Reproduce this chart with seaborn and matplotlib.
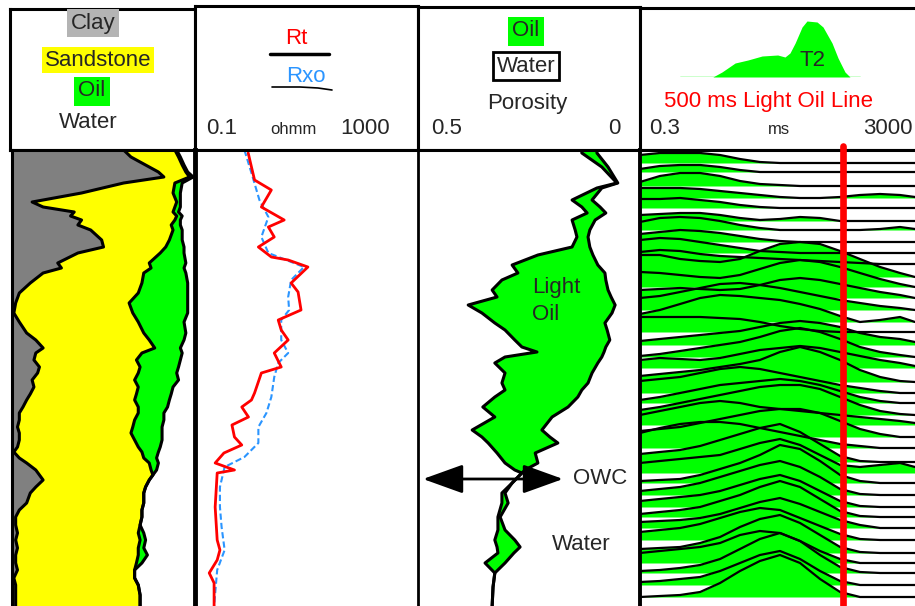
import numpy as np
import seaborn as sns
import matplotlib.pyplot as plt

# ---------------- track 1 : lithology (cumulative volume fraction) ----------------
lith_depth = [0, 7, 15, 22, 27, 33, 43, 52, 57, 62, 66, 70, 75, 80, 90, 97, 103, 113, 118, 123,
              133, 143, 153, 163, 172, 183, 190, 198, 203, 210, 217, 223, 230, 237, 244, 250, 257,
              263, 270, 277, 283, 290, 297, 302, 308, 313, 320, 325, 330, 337, 343, 353, 360, 367,
              375, 383, 390, 398, 405, 413, 420, 428, 435, 445, 456]
clay_vol = [.61, .65, .73, .80, .83, .61, .38, .11, .17, .34, .32, .38, .36, .43, .49, .50, .36, .25, .27, .17,
            .10, .04, .02, .01, .04, .08, .13, .17, .13, .12, .15, .14, .11, .12, .10, .08, .06,
            .04, .04, .03, .04, .04, .03, .01, .04, .08, .13, .15, .17, .13, .10, .08, .04, .02,
            .02, .03, .02, .03, .02, .02, .03, .01, .02, .02, .02]
sand_vol = [.89, .91, .93, .95, .97, .89, .88, .90, .89, .88, .90, .89, .87, .88, .86, .84, .81, .75, .76, .72,
            .71, .69, .64, .66, .69, .72, .75, .78, .71, .68, .70, .69, .67, .69, .68, .67, .69,
            .69, .67, .66, .65, .67, .69, .71, .72, .75, .76, .77, .75, .73, .72, .72, .71, .71,
            .70, .69, .70, .69, .69, .68, .67, .67, .69, .70, .70]
oil_vol = [.90, .92, .94, .96, .99, .93, .92, .92, .92, .91, .93, .92, .92, .93, .93, .94, .94, .95, .94, .95,
           .96, .96, .96, .96, .94, .95, .94, .92, .93, .92, .91, .90, .91, .88, .87, .86, .85,
           .83, .83, .82, .82, .82, .81, .80, .79, .80, .79, .77, .75, .73, .72, .72, .71, .71,
           .70, .72, .73, .72, .74, .71, .67, .67, .69, .70, .70]

# ---------------- track 2 : resistivity (ohmm) ----------------
rt_depth = [3, 17, 30, 40, 57, 70, 77, 87, 97, 107, 110, 117, 133, 142, 160, 170, 180, 190, 203, 217,
            223, 243, 250, 257, 267, 275, 287, 295, 303, 313, 320, 323, 357, 390, 400, 410, 423, 433, 456]
rt = [0.90, 1.03, 1.17, 2.34, 1.55, 3.98, 2.07, 2.64, 1.37, 2.34, 4.69, 10.6, 5.30, 7.06, 7.98, 3.11,
      3.52, 4.69, 2.64, 3.52, 1.55, 1.17, 1.03, 0.69, 0.91, 0.46, 0.51, 0.69, 0.33, 0.23, 0.51, 0.25,
      0.23, 0.25, 0.28, 0.25, 0.18, 0.22, 0.22]
rxo_depth = [0, 23, 50, 67, 87, 103, 117, 130, 147, 160, 170, 190, 203, 213, 227, 247, 263, 277, 293,
             307, 317, 337, 357, 377, 400, 420, 456]
rxo = [0.77, 1.03, 1.43, 2.07, 1.55, 2.07, 9.03, 5.30, 4.69, 4.88, 3.52, 3.52, 4.69, 3.11, 2.64, 2.34,
       1.91, 1.37, 1.37, 0.77, 0.34, 0.28, 0.28, 0.30, 0.34, 0.25, 0.22]

# ---------------- track 3 : porosity ----------------
por_depth = [0, 3, 17, 33, 38, 50, 57, 63, 70, 80, 87, 97, 105, 115, 123, 130, 140, 147, 155, 163,
             173, 180, 190, 197, 202, 207, 213, 223, 233, 240, 247, 257, 267, 280, 287, 293, 303,
             313, 320, 323, 333, 343, 353, 367, 380, 390, 397, 403, 413, 423, 437, 456]
phit = [.131, .131, .086, .052, .097, .153, .131, .119, .153, .146, .142, .153, .230, .288, .275, .311,
        .333, .322, .387, .356, .327, .304, .282, .266, .232, .304, .327, .304, .311, .304, .327, .354,
        .327, .378, .356, .342, .322, .304, .282, .266, .288, .311, .311, .320, .320, .327, .322, .320,
        .349, .327, .331, .333]
bvw = [.097, .097, .072, .050, .086, .108, .090, .077, .101, .113, .117, .113, .106, .095, .079, .077,
       .072, .065, .056, .063, .079, .074, .068, .077, .081, .086, .095, .108, .117, .131, .140, .162,
       .198, .221, .203, .185, .236, .230, .259, .266, .288, .304, .297, .315, .304, .282, .270, .284,
       .304, .327, .331, .333]

# ---------------- track 4 : T2 distributions ----------------
t2_ms = [0.3, 0.62, 1.3, 2.7, 5.6, 11.6, 24, 50, 104, 216, 450, 930, 1940, 4020, 6950]
t2_depth = [13, 22, 36, 48, 58, 71, 80, 92, 103, 114, 127, 137, 148, 160, 172, 182, 195, 207, 218,
            232, 243, 253, 265, 275, 287, 298, 312, 323, 333, 345, 357, 367, 378, 390, 403, 413,
            423, 435, 447]
t2_amp = [
    [8, 10, 10, 10, 8, 4, 1, 0, 0, 0, 0, 0, 0, 0, 0],
    [3, 6, 7, 7, 5, 2, 0, 0, 0, 0, 0, 0, 0, 0, 0],
    [4, 10, 13, 13, 10, 5, 2, 1, 0, 0, 0, 0, 0, 0, 0],
    [10, 10, 10, 9, 7, 5, 3, 1, 0, 0, 1, 3, 4, 3, 1],
    [9, 9, 10, 8, 6, 3, 1, 0, 0, 0, 0, 0, 0, 0, 0],
    [6, 7, 8, 8, 6, 3, 1, 2, 4, 3, 0, 0, 0, 0, 0],
    [8, 12, 13, 12, 9, 5, 2, 0, 0, 0, 0, 0, 1, 3, 1],
    [8, 10, 12, 11, 9, 6, 3, 1, 0, 0, 0, 0, 0, 0, 0],
    [13, 15, 14, 11, 8, 5, 2, 1, 0, 0, 0, 0, 0, 0, 0],
    [12, 14, 13, 10, 8, 7, 6, 5, 4, 3, 2, 1, 0, 0, 0],
    [22, 22, 18, 16, 15, 18, 26, 33, 35, 33, 26, 18, 10, 4, 0],
    [15, 14, 12, 10, 9, 12, 18, 24, 27, 25, 20, 14, 8, 3, 0],
    [8, 9, 10, 9, 8, 9, 13, 18, 20, 18, 14, 10, 6, 3, 0],
    [12, 14, 18, 22, 26, 27, 25, 22, 18, 14, 10, 7, 4, 2, 0],
    [8, 12, 18, 24, 27, 26, 24, 22, 18, 13, 6, 0, 2, 5, 0],
    [15, 15, 15, 15, 14, 13, 10, 6, 3, 1, 0, 0, 0, 0, 0],
    [4, 6, 8, 10, 12, 14, 18, 22, 24, 22, 18, 12, 8, 6, 3],
    [1, 3, 6, 9, 12, 15, 20, 26, 29, 25, 18, 10, 5, 2, 0],
    [8, 10, 9, 8, 10, 14, 18, 20, 22, 20, 16, 12, 8, 5, 2],
    [6, 8, 10, 12, 15, 18, 22, 30, 35, 30, 22, 12, 5, 1, 0],
    [12, 14, 16, 20, 24, 26, 24, 20, 16, 12, 8, 5, 2, 0, 0],
    [3, 6, 10, 14, 18, 20, 22, 24, 22, 18, 12, 6, 2, 0, 0],
    [5, 8, 12, 16, 20, 24, 28, 30, 30, 26, 18, 10, 4, 1, 0],
    [10, 14, 18, 22, 24, 22, 18, 16, 14, 12, 10, 8, 6, 4, 2],
    [6, 8, 10, 14, 18, 22, 26, 28, 28, 24, 16, 8, 3, 0, 0],
    [15, 20, 24, 26, 26, 24, 20, 16, 12, 8, 4, 2, 0, 0, 0],
    [8, 10, 12, 16, 22, 28, 34, 38, 30, 18, 6, 1, 0, 0, 0],
    [10, 12, 14, 16, 18, 24, 30, 34, 28, 18, 8, 6, 8, 10, 6],
    [2, 3, 4, 8, 14, 20, 28, 38, 34, 22, 8, 2, 0, 0, 0],
    [4, 6, 8, 12, 18, 24, 30, 34, 28, 18, 6, 1, 0, 0, 0],
    [6, 8, 10, 12, 16, 22, 28, 32, 26, 16, 6, 1, 0, 0, 0],
    [3, 5, 7, 10, 16, 22, 30, 36, 30, 18, 6, 1, 0, 0, 0],
    [6, 7, 8, 10, 14, 20, 26, 30, 24, 16, 8, 3, 0, 0, 0],
    [8, 10, 12, 16, 22, 28, 32, 30, 22, 14, 6, 1, 0, 0, 0],
    [4, 5, 6, 10, 16, 26, 34, 38, 30, 18, 6, 1, 0, 0, 0],
    [10, 12, 14, 16, 20, 28, 32, 30, 22, 12, 4, 0, 0, 0, 0],
    [2, 3, 5, 8, 14, 24, 34, 40, 32, 18, 6, 1, 0, 0, 0],
    [3, 4, 6, 8, 14, 22, 30, 34, 26, 14, 4, 0, 0, 0, 0],
    [0, 1, 2, 5, 14, 26, 36, 42, 34, 18, 5, 0, 0, 0, 0],
]
light_oil_ms = 500
# T2 sample shape drawn in the header
hdr_ms = [1.3, 4.3, 6.0, 9.7, 15.5, 26, 46, 60, 72, 87, 112, 134, 194, 241, 335, 417, 538, 646, 930]
hdr_amp = [0, 0, 5, 14, 17, 21, 22, 20, 24, 34, 50, 56, 55, 50, 34, 19, 5, 0, 0]

GREEN = '#00ff00'
YELLOW = '#ffff00'
GRAY = '#808080'
RED = '#ff0000'
BLUE = '#2b95ff'

sns.set_style('white')
plt.rcParams['font.family'] = ['Liberation Sans', 'DejaVu Sans']

W, H = 915, 606
fig = plt.figure(figsize=(W / 100, H / 100), dpi=100)


def add_box(x0, y0, x1, y1, lw=2.2):
    ax = fig.add_axes([x0 / W, 1 - y1 / H, (x1 - x0) / W, (y1 - y0) / H])
    ax.tick_params(which='both', bottom=False, left=False, labelbottom=False, labelleft=False)
    for s in ax.spines.values():
        s.set_linewidth(lw)
        s.set_color('black')
    return ax


def ftext(x, y, s, **kw):
    kw.setdefault('ha', 'center')
    kw.setdefault('va', 'center')
    kw.setdefault('fontsize', 16)
    return fig.text(x / W, 1 - y / H, s, **kw)


def fline(xs, ys, **kw):
    fig.add_artist(plt.Line2D([x / W for x in xs], [1 - y / H for y in ys],
                              transform=fig.transFigure, **kw))


# ---- headers ----
h1 = add_box(10, 9, 195, 150)
h2 = add_box(195, 6, 418, 150)
h3 = add_box(418, 7, 640, 150)
h4 = add_box(640, 8, 915, 150)
h4.spines['right'].set_visible(False)
for h in (h1, h2, h3, h4):
    h.set_xticks([])
    h.set_yticks([])

ftext(93, 23, 'Clay', bbox=dict(boxstyle='square,pad=0.15', fc='#b4b4b4', ec='none'))
ftext(98, 60, 'Sandstone', bbox=dict(boxstyle='square,pad=0.12', fc=YELLOW, ec='none'))
ftext(92, 91, 'Oil', bbox=dict(boxstyle='square,pad=0.18', fc=GREEN, ec='none'))
ftext(88, 123, 'Water')

ftext(296, 38, 'Rt', color=RED)
fline([270, 329], [54, 54], color='black', lw=2.5)
ftext(306, 76, 'Rxo', color=BLUE)
fline([272, 300, 318, 332], [87, 87, 88, 90], color='black', lw=1.2)
ftext(222, 128, '0.1')
ftext(293, 129, 'ohmm', fontsize=12)
ftext(365, 128, '1000')

ftext(526, 31, 'Oil', bbox=dict(boxstyle='square,pad=0.18', fc=GREEN, ec='none'))
ftext(526, 66, 'Water', bbox=dict(boxstyle='square,pad=0.15', fc='white', ec='black', lw=2))
ftext(527, 104, 'Porosity')
ftext(447, 128, '0.5')
ftext(614, 128, '0')

axh = fig.add_axes([640 / W, 1 - 77 / H, 275 / W, 70 / H])
axh.set_xscale('log')
axh.set_xlim(0.3, 6950)
axh.set_ylim(0, 70)
axh.axis('off')
axh.fill_between(hdr_ms, 0, hdr_amp, color=GREEN, lw=0)
axh.plot(hdr_ms, np.zeros(len(hdr_ms)), color=GREEN, lw=1)
ftext(812, 60, 'T2')
ftext(768, 102, '500 ms Light Oil Line', color=RED)
ftext(665, 128, '0.3')
ftext(779, 129, 'ms', fontsize=12)
ftext(888, 128, '3000')

# ---- data tracks ----
ax1 = add_box(12, 150, 195, 606)
ax2 = add_box(195, 150, 418, 606)
ax3 = add_box(418, 150, 640, 606)
ax4 = add_box(640, 150, 915, 606)
for ax in (ax1, ax2, ax3, ax4):
    ax.spines['bottom'].set_visible(False)
    ax.spines['right'].set_visible(False)
    ax.set_ylim(456, 0)
ax2.spines['left'].set_linewidth(3.5)
ax3.spines['left'].set_linewidth(2)
ax4.spines['left'].set_linewidth(2.8)

# lithology
ax1.set_xlim(0, 1)
ax1.fill_betweenx(lith_depth, 0, clay_vol, color=GRAY, lw=0)
ax1.fill_betweenx(lith_depth, clay_vol, sand_vol, color=YELLOW, lw=0)
ax1.fill_betweenx(lith_depth, sand_vol, oil_vol, color=GREEN, lw=0)
for v in (clay_vol, sand_vol, oil_vol):
    ax1.plot(v, lith_depth, color='black', lw=2.2)

# resistivity
ax2.set_xscale('log')
ax2.set_xlim(0.1, 1000)
sns.lineplot(x=rxo, y=rxo_depth, orient='y', estimator=None, ax=ax2, color=BLUE, lw=1.5,
             linestyle=(0, (3, 1.5)))
sns.lineplot(x=rt, y=rt_depth, orient='y', estimator=None, ax=ax2, color=RED, lw=2)
ax2.set_ylim(456, 0)

# porosity
ax3.set_xlim(0.5, 0)
ax3.fill_betweenx(por_depth, phit, bvw, color=GREEN, lw=0)
ax3.plot(phit, por_depth, color='black', lw=2.2)
ax3.plot(bvw, por_depth, color='black', lw=2.2)
ftext(532, 288, 'Light', ha='left')
ftext(532, 315, 'Oil', ha='left')
ftext(573, 479, 'OWC', ha='left')
ftext(581, 545, 'Water')
ax3.annotate('', xy=(423, H - 479), xytext=(563, H - 479), xycoords='figure pixels',
             textcoords='figure pixels',
             arrowprops=dict(arrowstyle='<|-|>,head_length=1.0,head_width=0.36',
                             mutation_scale=25, color='black', lw=2, shrinkA=0, shrinkB=0))

# T2 distributions
ax4.set_xscale('log')
ax4.set_xlim(0.3, 6950)
for d, amp in zip(t2_depth, t2_amp):
    ax4.fill_between(t2_ms, d - np.array(amp), d, color=GREEN, lw=0, zorder=1)
for d, amp in zip(t2_depth, t2_amp):
    ax4.plot(t2_ms, d - np.array(amp), color='black', lw=1.6, zorder=2)
ax4.axvline(light_oil_ms, ymin=0, ymax=1.008, color=RED, lw=4.8, clip_on=False, zorder=5)

for ax in (ax1, ax2, ax3, ax4):
    ax.set_xlabel('')
    ax.set_ylabel('')
    ax.set_xticks([])
    ax.set_xticks([], minor=True)
    ax.set_yticks([])

fig.savefig('out.png', dpi=100)
